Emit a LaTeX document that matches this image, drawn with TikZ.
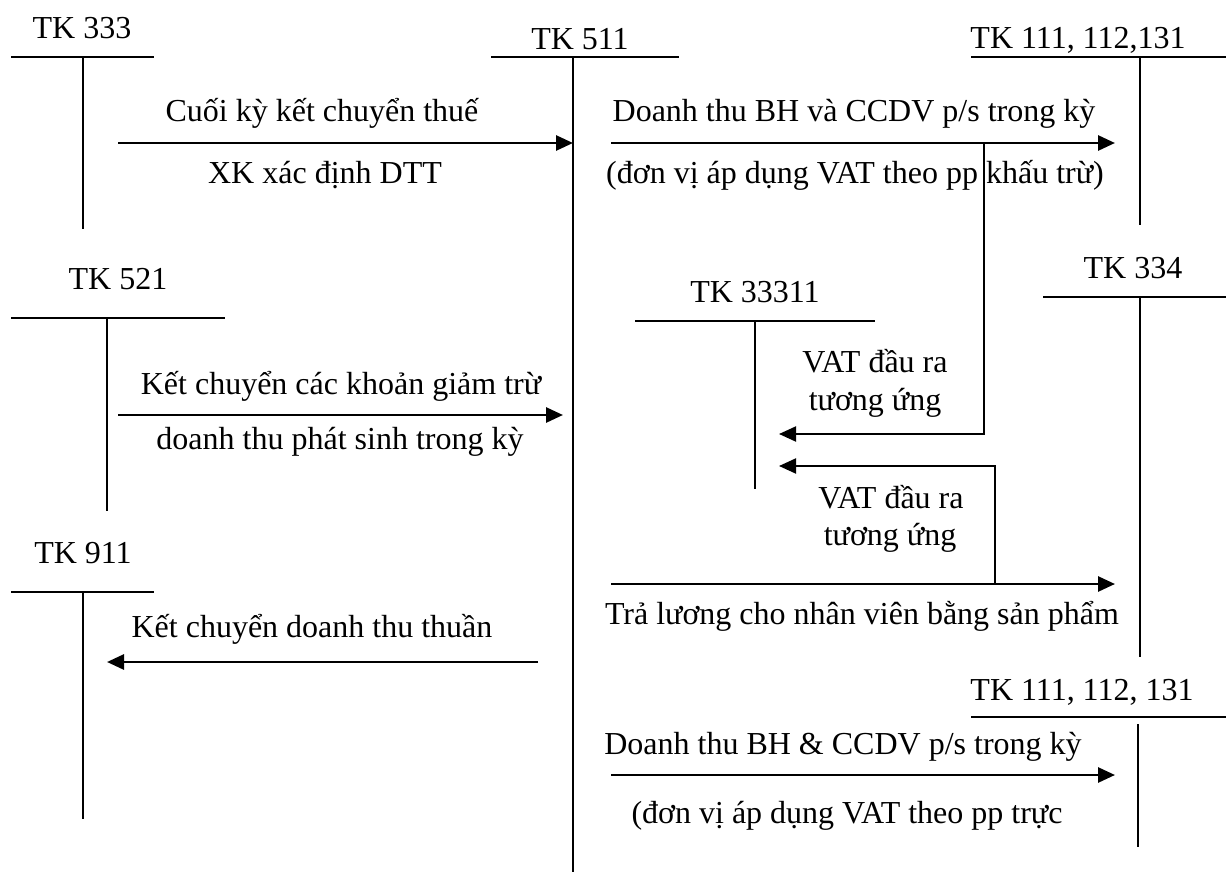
\documentclass[tikz,border=0pt]{standalone}
\usepackage{fontspec}
\setmainfont{Liberation Serif}
\usetikzlibrary{arrows.meta}
\begin{document}
\begin{tikzpicture}[x=1pt,y=-1pt,
  lbl/.style={anchor=base,inner sep=0pt,font=\fontsize{32}{38}\selectfont},
  acct/.style={line width=2pt},
  tip/.style={-{Triangle[length=17pt,width=15pt]}},
  flow/.style={line width=2.8pt,tip},
  link/.style={line width=2pt,tip}]
\useasboundingbox (0,0) rectangle (1226,872);

% ---- T-accounts: title, top bar, centre stem ----
\node[lbl] (t333) at (82,39) {TK 333};
\draw[acct] (11,57) -- (154,57);
\draw[acct] (83,57) -- (83,229);

\node[lbl] (t511) at (580,50) {TK 511};
\draw[acct] (491,57) -- (679,57);
\draw[acct] (573,57) -- (573,872);

\node[lbl] (t111a) at (1078,49) {TK 111, 112,131};
\draw[acct] (971,57) -- (1226,57);
\draw[acct] (1140,57) -- (1140,225);

\node[lbl] (t521) at (118,289) {TK 521};
\draw[acct] (11,318) -- (225,318);
\draw[acct] (107,318) -- (107,511);

\node[lbl] (t33311) at (755,302) {TK 33311};
\draw[acct] (635,321) -- (875,321);
\draw[acct] (755,321) -- (755,489);

\node[lbl] (t334) at (1133,278) {TK 334};
\draw[acct] (1043,297) -- (1226,297);
\draw[acct] (1140,297) -- (1140,657);

\node[lbl] (t911) at (83,563) {TK 911};
\draw[acct] (11,592) -- (154,592);
\draw[acct] (83,592) -- (83,819);

\node[lbl] (t111b) at (1082,700) {TK 111, 112, 131};
\draw[acct] (971,717) -- (1226,717);
\draw[acct] (1138,724) -- (1138,847);

% ---- arrow end points ----
\coordinate (a1s) at (118,143);  \coordinate (a1e) at (573,143);
\coordinate (a2s) at (611,143);  \coordinate (a2e) at (1115,143);
\coordinate (b1s) at (984,143);  \coordinate (b1k) at (984,434);  \coordinate (b1e) at (779,434);
\coordinate (b2s) at (995,584);  \coordinate (b2k) at (995,466);  \coordinate (b2e) at (779,466);
\coordinate (a3s) at (118,415);  \coordinate (a3e) at (563,415);
\coordinate (a5s) at (611,584);  \coordinate (a5e) at (1115,584);
\coordinate (a6s) at (538,662);  \coordinate (a6e) at (107,662);
\coordinate (a7s) at (611,775);  \coordinate (a7e) at (1115,775);

% ---- postings ----
\draw[flow] (a1s) -- (a1e);
\node[lbl] (l1a) at (322,122) {Cuối kỳ kết chuyển thuế};
\node[lbl] (l1b) at (325,183) {XK xác định DTT};

\draw[flow] (a2s) -- (a2e);
\node[lbl] (l2a) at (854,122) {Doanh thu BH và CCDV p/s trong kỳ};
\node[lbl] (l2b) at (855,183) {(đơn vị áp dụng VAT theo pp khấu trừ)};

\draw[link] (b1s) -- (b1k) -- (b1e);
\node[lbl] (v1a) at (875,372) {VAT đầu ra};
\node[lbl] (v1b) at (875,410) {tương ứng};

\draw[link] (b2s) -- (b2k) -- (b2e);
\node[lbl] (v2a) at (891,508) {VAT đầu ra};
\node[lbl] (v2b) at (890,545) {tương ứng};

\draw[flow] (a5s) -- (a5e);
\node[lbl] (l5) at (862,624) {Trả lương cho nhân viên bằng sản phẩm};

\draw[flow] (a3s) -- (a3e);
\node[lbl] (l3a) at (341,394) {Kết chuyển các khoản giảm trừ};
\node[lbl] (l3b) at (340,449) {doanh thu phát sinh trong kỳ};

\draw[flow] (a6s) -- (a6e);
\node[lbl] (l6) at (312,637) {Kết chuyển doanh thu thuần};

\draw[flow] (a7s) -- (a7e);
\node[lbl] (l7a) at (843,754) {Doanh thu BH \& CCDV p/s trong kỳ};
\node[lbl] (l7b) at (847,823) {(đơn vị áp dụng VAT theo pp trực};
\end{tikzpicture}
\end{document}
